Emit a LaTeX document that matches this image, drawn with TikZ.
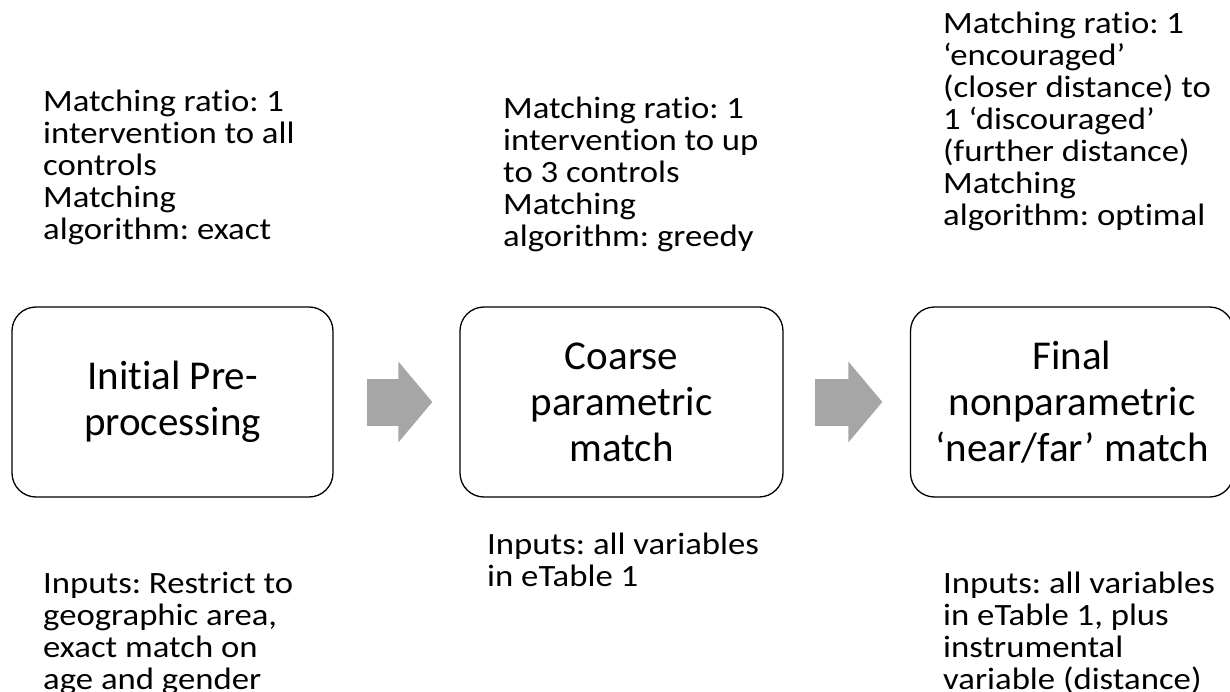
\documentclass[tikz,border=0pt]{standalone}
\usepackage{fontspec}
\setmainfont{Carlito}[Ligatures=NoCommon]
\newfontfamily\notefont{Carlito}[FakeStretch=1.12, Ligatures=NoCommon]
\usetikzlibrary{arrows.meta}
\definecolor{arrowgray}{HTML}{A6A6A6}
\frenchspacing
\begin{document}
\begin{tikzpicture}[x=1pt,y=-1pt,
  stage/.style={draw=black, line width=1.3pt, rounded corners=24pt, align=center,
    font=\fontsize{41}{46}\selectfont, inner sep=0pt, minimum height=190pt},
  note/.style={anchor=base west, align=left, font=\notefont\fontsize{31}{32}\selectfont, inner sep=0pt},
  flow/.style={draw=arrowgray, line width=47pt, -{Triangle[length=34pt,width=79pt]}}]
\useasboundingbox (0,0) rectangle (1230,692);
\node[stage, minimum width=321pt] (b1) at (172.5,402) {Initial Pre-\\processing};
\node[stage, minimum width=323pt] (b2) at (621.5,402) {Coarse\\parametric\\match};
\node[stage, minimum width=323pt] (b3) at (1072,402) {Final\\nonparametric\\‘near/far’ match};
\draw[flow] ([xshift=33pt]b1.east) -- ([xshift=-27pt]b2.west);
\draw[flow] ([xshift=31pt]b2.east) -- ([xshift=-27.5pt]b3.west);
\node[note] (t1) at (43,240) {Matching ratio: 1\\intervention to all\\controls\\Matching\\algorithm: exact};
\node[note] (t2) at (503,247) {Matching ratio: 1\\intervention to up\\to 3 controls\\Matching\\algorithm: greedy};
\node[note] (t3) at (943,226) {Matching ratio: 1\\‘encouraged’\\(closer distance) to\\1 ‘discouraged’\\(further distance)\\Matching\\algorithm: optimal};
\node[note] (u1) at (43,689) {Inputs: Restrict to\\geographic area,\\exact match on\\age and gender};
\node[note] (u2) at (487,586) {Inputs: all variables\\in eTable 1};
\node[note] (u3) at (943,689) {Inputs: all variables\\in eTable 1, plus\\instrumental\\variable (distance)};
\end{tikzpicture}
\end{document}
